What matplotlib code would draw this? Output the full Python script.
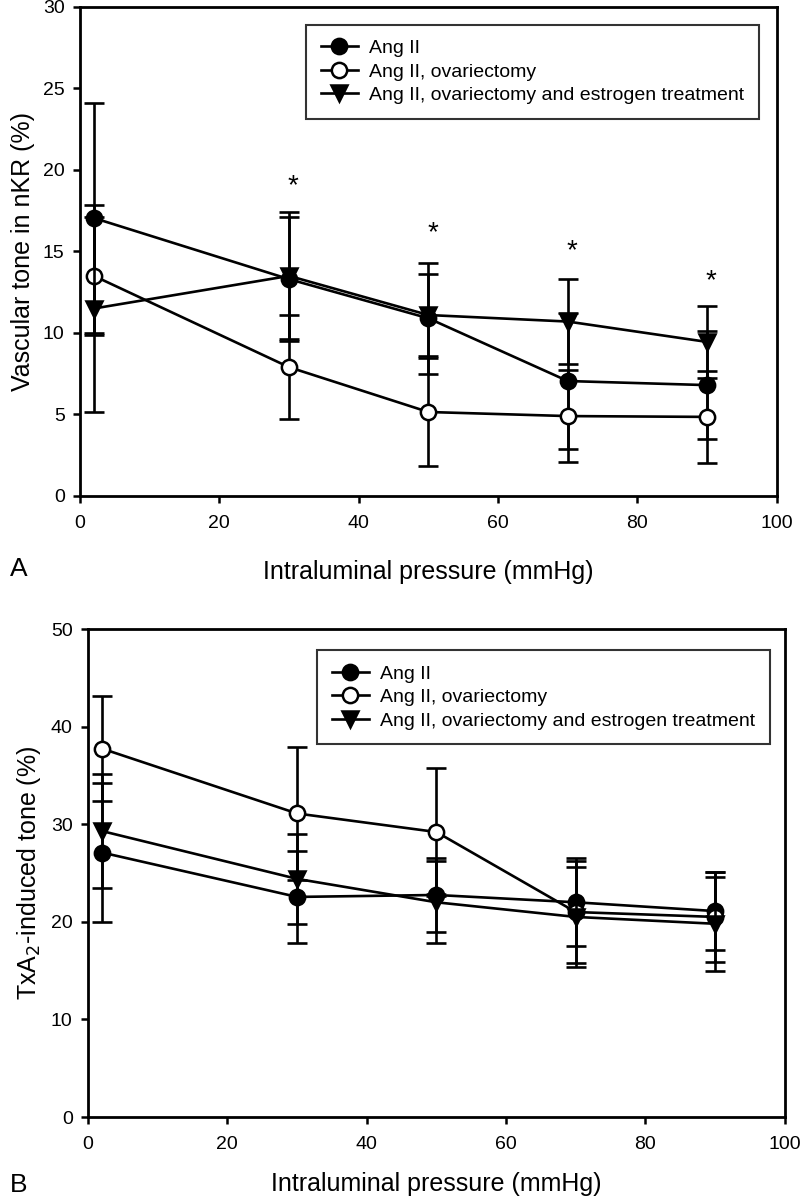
import numpy as np
import matplotlib.pyplot as plt

plt.rcParams['font.family'] = ['Liberation Sans', 'DejaVu Sans']

pressure = [2, 30, 50, 70, 90]
labels = ['Ang II', 'Ang II, ovariectomy', 'Ang II, ovariectomy and estrogen treatment']

# panel A - vascular tone in nKR (%)
a_ang = [17.05, 13.3, 10.9, 7.05, 6.8]
a_ang_err = [7.05, 3.8, 3.4, 4.15, 3.3]
a_ovx = [13.5, 7.9, 5.15, 4.9, 4.85]
a_ovx_err = [3.6, 3.2, 3.3, 2.8, 2.8]
a_est = [11.5, 13.5, 11.1, 10.7, 9.45]
a_est_err = [6.35, 3.9, 2.5, 2.6, 2.2]
star_x = [30, 50, 70, 90]
star_y = [19.0, 16.1, 15.0, 13.2]

# panel B - TxA2-induced tone (%)
b_ang = [27.1, 22.55, 22.75, 22.0, 21.1]
b_ang_err = [7.1, 4.7, 3.75, 4.5, 4.0]
b_ovx = [37.75, 31.1, 29.2, 21.0, 20.5]
b_ovx_err = [5.35, 6.8, 6.6, 5.2, 4.6]
b_est = [29.3, 24.4, 22.0, 20.5, 19.8]
b_est_err = [5.8, 4.6, 4.2, 5.1, 4.8]

styles = [dict(marker='o', mfc='black', ms=11),
          dict(marker='o', mfc='white', ms=11),
          dict(marker='v', mfc='black', ms=12)]

fig = plt.figure(figsize=(8, 12.02), dpi=100)
axA = fig.add_axes([0.1, 0.5874, 0.871, 0.4068])
axB = fig.add_axes([0.11, 0.0707, 0.871, 0.406])


def draw(ax, series, ylim, yticks, ylabel, legend_anchor, xpad):
    for i, (vals, errs) in enumerate(series):
        ax.errorbar(pressure, vals, yerr=errs, fmt='none', ecolor='black',
                    elinewidth=1.9, capsize=7, capthick=1.9, zorder=2 + i)
        ax.plot(pressure, vals, color='black', lw=1.9, mec='black', mew=1.8,
                label=labels[i], zorder=2.5 + i, **styles[i])
    ax.set_xlim(0, 100)
    ax.set_ylim(*ylim)
    ax.set_xticks(range(0, 101, 20))
    ax.set_yticks(yticks)
    ax.tick_params(direction='out', length=5, width=1.8, labelsize=14,
                   top=False, right=False, pad=6)
    ax.tick_params(axis='x', pad=9)
    for s in ax.spines.values():
        s.set_linewidth(2.0)
    ax.set_xlabel('Intraluminal pressure (mmHg)', fontsize=18, labelpad=xpad)
    ax.set_ylabel(ylabel, fontsize=18, labelpad=6)
    leg = ax.legend(loc='upper right', bbox_to_anchor=legend_anchor, fontsize=14,
                    frameon=True, fancybox=False, handlelength=1.9,
                    borderpad=0.75, labelspacing=0.3, handletextpad=0.6,
                    borderaxespad=0.3)
    leg.get_frame().set_edgecolor('black')
    leg.get_frame().set_linewidth(1.5)


draw(axA, [(a_ang, a_ang_err), (a_ovx, a_ovx_err), (a_est, a_est_err)],
     (0, 30), range(0, 31, 5), 'Vascular tone in nKR (%)', (0.983, 0.975), 20)
for x, y in zip(star_x, star_y):
    axA.text(x + 0.6, y, '*', ha='center', va='center', fontsize=20)

draw(axB, [(b_ang, b_ang_err), (b_ovx, b_ovx_err), (b_est, b_est_err)],
     (0, 50), range(0, 51, 10), 'TxA$_2$-induced tone (%)', (0.987, 0.968), 13)

fig.text(0.012, 0.527, 'A', fontsize=19, va='center')
fig.text(0.012, 0.014, 'B', fontsize=19, va='center')

fig.savefig('out.png', dpi=100)
